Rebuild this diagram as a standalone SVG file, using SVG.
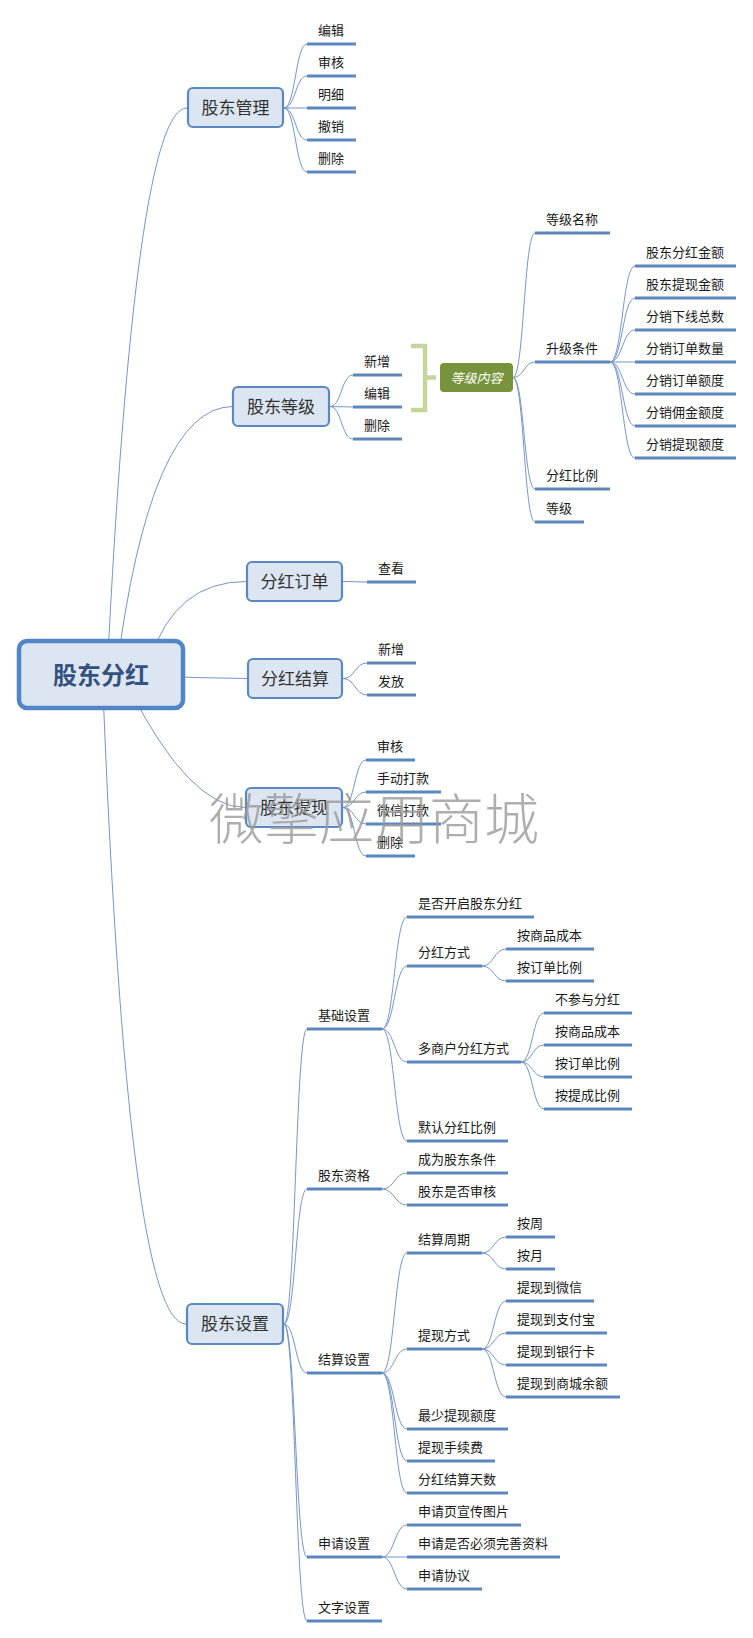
<svg xmlns="http://www.w3.org/2000/svg" width="753" height="1638" viewBox="0 0 753 1638">
<style>
.c{fill:none;stroke:#7796c6;stroke-width:1}
.u{stroke:#5b87bd;stroke-width:3;stroke-linecap:butt}
.t{font-family:"Noto Sans CJK SC","Microsoft YaHei",sans-serif;font-size:13px;fill:#1a1a1a}
.bx{fill:#dce6f2;stroke:#5b88c3;stroke-width:2.2}
.bt{font-family:"Noto Sans CJK SC",sans-serif;font-size:17px;fill:#333;text-anchor:middle}
</style>
<rect width="753" height="1638" fill="#ffffff"/>
<g id="connectors">
<path class="c" d="M107 675Q135 108 187 108"/>
<path class="c" d="M116 675Q150 406.5 233 406.5"/>
<path class="c" d="M150 660Q175 581.5 246 581.5"/>
<path class="c" d="M150 676Q200 678 247 678.5"/>
<path class="c" d="M130 690Q190 807.5 245 807.5"/>
<path class="c" d="M103 690Q128 1324 186 1324"/>
<path class="c" d="M284 108C295.5 108 295.5 44 307 44M284 108C295.5 108 295.5 76 307 76M284 108L307 108M284 108C295.5 108 295.5 140 307 140M284 108C295.5 108 295.5 172 307 172"/>
<path class="c" d="M330 406.5C341.5 406.5 341.5 375 353 375M330 406.5L353 407M330 406.5C341.5 406.5 341.5 439 353 439"/>
<path class="c" d="M513 377.5C524 377.5 524 233 535 233M513 377.5C524 377.5 524 362 535 362M513 377.5C524 377.5 524 489 535 489M513 377.5C524 377.5 524 522 535 522"/>
<path class="c" d="M610 362C622.5 362 622.5 266 635 266M610 362C622.5 362 622.5 298 635 298M610 362C622.5 362 622.5 330 635 330M610 362L635 362M610 362C622.5 362 622.5 394 635 394M610 362C622.5 362 622.5 426 635 426M610 362C622.5 362 622.5 458 635 458"/>
<path class="c" d="M343 581.5L367 582"/>
<path class="c" d="M343 678.5C355 678.5 355 663 367 663M343 678.5C355 678.5 355 695 367 695"/>
<path class="c" d="M343 807.5C354.5 807.5 354.5 760 366 760M343 807.5C354.5 807.5 354.5 792 366 792M343 807.5C354.5 807.5 354.5 824 366 824M343 807.5C354.5 807.5 354.5 856 366 856"/>
<path class="c" d="M284 1324C295.5 1324 295.5 1029 307 1029M284 1324C295.5 1324 295.5 1189 307 1189M284 1324C295.5 1324 295.5 1373 307 1373M284 1324C295.5 1324 295.5 1557 307 1557M284 1324C295.5 1324 295.5 1621 307 1621"/>
<path class="c" d="M382 1029C394.5 1029 394.5 917 407 917M382 1029C394.5 1029 394.5 966 407 966M382 1029C394.5 1029 394.5 1062 407 1062M382 1029C394.5 1029 394.5 1141 407 1141"/>
<path class="c" d="M482 966C494 966 494 949 506 949M482 966C494 966 494 981 506 981"/>
<path class="c" d="M521 1062C532.5 1062 532.5 1013 544 1013M521 1062C532.5 1062 532.5 1045 544 1045M521 1062C532.5 1062 532.5 1077 544 1077M521 1062C532.5 1062 532.5 1109 544 1109"/>
<path class="c" d="M382 1189C394.5 1189 394.5 1173 407 1173M382 1189C394.5 1189 394.5 1205 407 1205"/>
<path class="c" d="M382 1373C394.5 1373 394.5 1253 407 1253M382 1373C394.5 1373 394.5 1349 407 1349M382 1373C394.5 1373 394.5 1429 407 1429M382 1373C394.5 1373 394.5 1461 407 1461M382 1373C394.5 1373 394.5 1493 407 1493"/>
<path class="c" d="M482 1253C494 1253 494 1237 506 1237M482 1253C494 1253 494 1269 506 1269"/>
<path class="c" d="M482 1349C494 1349 494 1301 506 1301M482 1349C494 1349 494 1333 506 1333M482 1349C494 1349 494 1365 506 1365M482 1349C494 1349 494 1397 506 1397"/>
<path class="c" d="M382 1557C394.5 1557 394.5 1525 407 1525M382 1557L407 1557M382 1557C394.5 1557 394.5 1589 407 1589"/>
</g>

<g id="root">
<rect x="19" y="641" width="164" height="67" rx="8" fill="#dce6f2" stroke="#5385c6" stroke-width="4.5"/>
<text x="101" y="684" font-family="Noto Sans CJK SC,sans-serif" font-size="24" font-weight="bold" fill="#33527f" text-anchor="middle">股东分红</text>
</g>

<g id="n-gdgl"><rect class="bx" x="188" y="88" width="95" height="39" rx="5"/><text class="bt" x="235.5" y="114">股东管理</text></g>
<g id="n-gdgl-1"><line class="u" x1="307" y1="44" x2="356" y2="44"/><text class="t" x="318" y="35">编辑</text></g>
<g id="n-gdgl-2"><line class="u" x1="307" y1="76" x2="356" y2="76"/><text class="t" x="318" y="67">审核</text></g>
<g id="n-gdgl-3"><line class="u" x1="307" y1="108" x2="356" y2="108"/><text class="t" x="318" y="99">明细</text></g>
<g id="n-gdgl-4"><line class="u" x1="307" y1="140" x2="356" y2="140"/><text class="t" x="318" y="131">撤销</text></g>
<g id="n-gdgl-5"><line class="u" x1="307" y1="172" x2="356" y2="172"/><text class="t" x="318" y="163">删除</text></g>

<g id="n-gddj"><rect class="bx" x="233" y="387" width="96" height="39" rx="5"/><text class="bt" x="281" y="413">股东等级</text></g>
<g id="n-gddj-1"><line class="u" x1="353" y1="375" x2="402" y2="375"/><text class="t" x="364" y="366">新增</text></g>
<g id="n-gddj-2"><line class="u" x1="353" y1="407" x2="402" y2="407"/><text class="t" x="364" y="398">编辑</text></g>
<g id="n-gddj-3"><line class="u" x1="353" y1="439" x2="402" y2="439"/><text class="t" x="364" y="430">删除</text></g>
<g id="bracket"><path d="M411 346H425V410H411M425 377.5H436" fill="none" stroke="#c4d69c" stroke-width="4.5"/></g>
<g id="n-djnr"><rect x="440" y="363" width="73" height="29" rx="4" fill="#77933c"/><text x="476.5" y="382.5" font-family="Noto Sans CJK SC,sans-serif" font-size="13" font-style="italic" fill="#ffffff" text-anchor="middle">等级内容</text></g>
<g id="n-djmc"><line class="u" x1="535" y1="233" x2="610" y2="233"/><text class="t" x="546" y="224">等级名称</text></g>
<g id="n-sjtj"><line class="u" x1="535" y1="362" x2="610" y2="362"/><text class="t" x="546" y="353">升级条件</text></g>
<g id="n-fhbl"><line class="u" x1="535" y1="489" x2="610" y2="489"/><text class="t" x="546" y="480">分红比例</text></g>
<g id="n-dj"><line class="u" x1="535" y1="522" x2="584" y2="522"/><text class="t" x="546" y="513">等级</text></g>
<g id="n-sj-1"><line class="u" x1="635" y1="266" x2="736" y2="266"/><text class="t" x="646" y="257">股东分红金额</text></g>
<g id="n-sj-2"><line class="u" x1="635" y1="298" x2="736" y2="298"/><text class="t" x="646" y="289">股东提现金额</text></g>
<g id="n-sj-3"><line class="u" x1="635" y1="330" x2="736" y2="330"/><text class="t" x="646" y="321">分销下线总数</text></g>
<g id="n-sj-4"><line class="u" x1="635" y1="362" x2="736" y2="362"/><text class="t" x="646" y="353">分销订单数量</text></g>
<g id="n-sj-5"><line class="u" x1="635" y1="394" x2="736" y2="394"/><text class="t" x="646" y="385">分销订单额度</text></g>
<g id="n-sj-6"><line class="u" x1="635" y1="426" x2="736" y2="426"/><text class="t" x="646" y="417">分销佣金额度</text></g>
<g id="n-sj-7"><line class="u" x1="635" y1="458" x2="736" y2="458"/><text class="t" x="646" y="449">分销提现额度</text></g>

<g id="n-fhdd"><rect class="bx" x="247" y="562" width="95" height="39" rx="5"/><text class="bt" x="294.5" y="588">分红订单</text></g>
<g id="n-fhdd-1"><line class="u" x1="367" y1="582" x2="416" y2="582"/><text class="t" x="378" y="573">查看</text></g>

<g id="n-fhjs"><rect class="bx" x="248" y="659" width="94" height="39" rx="5"/><text class="bt" x="295" y="685">分红结算</text></g>
<g id="n-fhjs-1"><line class="u" x1="367" y1="663" x2="416" y2="663"/><text class="t" x="378" y="654">新增</text></g>
<g id="n-fhjs-2"><line class="u" x1="367" y1="695" x2="416" y2="695"/><text class="t" x="378" y="686">发放</text></g>

<g id="n-gdtx"><rect class="bx" x="246" y="788" width="96" height="39" rx="5"/><text class="bt" x="294" y="814">股东提现</text></g>
<g id="n-gdtx-1"><line class="u" x1="366" y1="760" x2="415" y2="760"/><text class="t" x="377" y="751">审核</text></g>
<g id="n-gdtx-2"><line class="u" x1="366" y1="792" x2="441" y2="792"/><text class="t" x="377" y="783">手动打款</text></g>
<g id="n-gdtx-3"><line class="u" x1="366" y1="824" x2="441" y2="824"/><text class="t" x="377" y="815">微信打款</text></g>
<g id="n-gdtx-4"><line class="u" x1="366" y1="856" x2="415" y2="856"/><text class="t" x="377" y="847">删除</text></g>

<g id="n-gdsz"><rect class="bx" x="187" y="1304" width="96" height="40" rx="5"/><text class="bt" x="235" y="1330">股东设置</text></g>
<g id="n-jcsz"><line class="u" x1="307" y1="1029" x2="382" y2="1029"/><text class="t" x="318" y="1020">基础设置</text></g>
<g id="n-jc-1"><line class="u" x1="407" y1="917" x2="534" y2="917"/><text class="t" x="418" y="908">是否开启股东分红</text></g>
<g id="n-jc-2"><line class="u" x1="407" y1="966" x2="482" y2="966"/><text class="t" x="418" y="957">分红方式</text></g>
<g id="n-jc-2-1"><line class="u" x1="506" y1="949" x2="594" y2="949"/><text class="t" x="517" y="940">按商品成本</text></g>
<g id="n-jc-2-2"><line class="u" x1="506" y1="981" x2="594" y2="981"/><text class="t" x="517" y="972">按订单比例</text></g>
<g id="n-jc-3"><line class="u" x1="407" y1="1062" x2="521" y2="1062"/><text class="t" x="418" y="1053">多商户分红方式</text></g>
<g id="n-jc-3-1"><line class="u" x1="544" y1="1013" x2="632" y2="1013"/><text class="t" x="555" y="1004">不参与分红</text></g>
<g id="n-jc-3-2"><line class="u" x1="544" y1="1045" x2="632" y2="1045"/><text class="t" x="555" y="1036">按商品成本</text></g>
<g id="n-jc-3-3"><line class="u" x1="544" y1="1077" x2="632" y2="1077"/><text class="t" x="555" y="1068">按订单比例</text></g>
<g id="n-jc-3-4"><line class="u" x1="544" y1="1109" x2="632" y2="1109"/><text class="t" x="555" y="1100">按提成比例</text></g>
<g id="n-jc-4"><line class="u" x1="407" y1="1141" x2="508" y2="1141"/><text class="t" x="418" y="1132">默认分红比例</text></g>

<g id="n-gdzg"><line class="u" x1="307" y1="1189" x2="382" y2="1189"/><text class="t" x="318" y="1180">股东资格</text></g>
<g id="n-zg-1"><line class="u" x1="407" y1="1173" x2="508" y2="1173"/><text class="t" x="418" y="1164">成为股东条件</text></g>
<g id="n-zg-2"><line class="u" x1="407" y1="1205" x2="508" y2="1205"/><text class="t" x="418" y="1196">股东是否审核</text></g>

<g id="n-jssz"><line class="u" x1="307" y1="1373" x2="382" y2="1373"/><text class="t" x="318" y="1364">结算设置</text></g>
<g id="n-js-1"><line class="u" x1="407" y1="1253" x2="482" y2="1253"/><text class="t" x="418" y="1244">结算周期</text></g>
<g id="n-js-1-1"><line class="u" x1="506" y1="1237" x2="555" y2="1237"/><text class="t" x="517" y="1228">按周</text></g>
<g id="n-js-1-2"><line class="u" x1="506" y1="1269" x2="555" y2="1269"/><text class="t" x="517" y="1260">按月</text></g>
<g id="n-js-2"><line class="u" x1="407" y1="1349" x2="482" y2="1349"/><text class="t" x="418" y="1340">提现方式</text></g>
<g id="n-js-2-1"><line class="u" x1="506" y1="1301" x2="594" y2="1301"/><text class="t" x="517" y="1292">提现到微信</text></g>
<g id="n-js-2-2"><line class="u" x1="506" y1="1333" x2="607" y2="1333"/><text class="t" x="517" y="1324">提现到支付宝</text></g>
<g id="n-js-2-3"><line class="u" x1="506" y1="1365" x2="607" y2="1365"/><text class="t" x="517" y="1356">提现到银行卡</text></g>
<g id="n-js-2-4"><line class="u" x1="506" y1="1397" x2="620" y2="1397"/><text class="t" x="517" y="1388">提现到商城余额</text></g>
<g id="n-js-3"><line class="u" x1="407" y1="1429" x2="508" y2="1429"/><text class="t" x="418" y="1420">最少提现额度</text></g>
<g id="n-js-4"><line class="u" x1="407" y1="1461" x2="495" y2="1461"/><text class="t" x="418" y="1452">提现手续费</text></g>
<g id="n-js-5"><line class="u" x1="407" y1="1493" x2="508" y2="1493"/><text class="t" x="418" y="1484">分红结算天数</text></g>

<g id="n-sqsz"><line class="u" x1="307" y1="1557" x2="382" y2="1557"/><text class="t" x="318" y="1548">申请设置</text></g>
<g id="n-sq-1"><line class="u" x1="407" y1="1525" x2="521" y2="1525"/><text class="t" x="418" y="1516">申请页宣传图片</text></g>
<g id="n-sq-2"><line class="u" x1="407" y1="1557" x2="560" y2="1557"/><text class="t" x="418" y="1548">申请是否必须完善资料</text></g>
<g id="n-sq-3"><line class="u" x1="407" y1="1589" x2="482" y2="1589"/><text class="t" x="418" y="1580">申请协议</text></g>
<g id="n-wzsz"><line class="u" x1="307" y1="1621" x2="382" y2="1621"/><text class="t" x="318" y="1612">文字设置</text></g>

<g id="watermark"><text x="209" y="839" font-family="Noto Sans CJK SC,sans-serif" font-size="55" font-weight="300" fill="#9a9a9a" fill-opacity="0.8">微擎应用商城</text></g>
</svg>
